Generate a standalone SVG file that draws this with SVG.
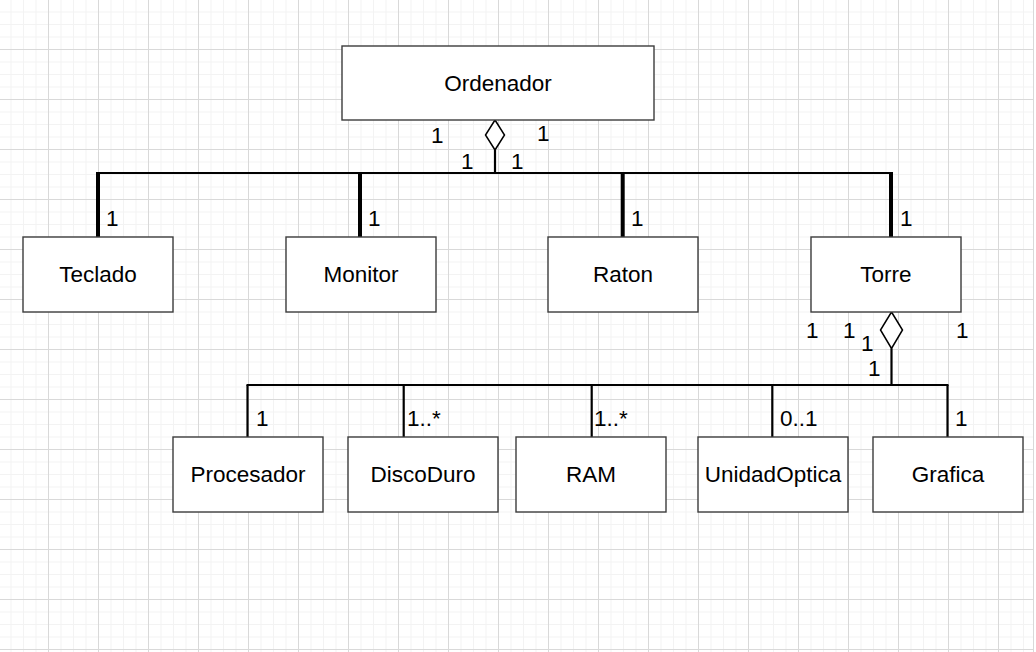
<svg xmlns="http://www.w3.org/2000/svg" width="1036" height="652" viewBox="0 0 1036 652">
<defs>
<pattern id="grid" patternUnits="userSpaceOnUse" x="-2" y="-1" width="50" height="50">
<rect width="50" height="50" fill="#ffffff"/>
<path d="M13 0V50M25.5 0V50M38 0V50M0 13H50M0 25.5H50M0 38H50" stroke="#f3f3f3" stroke-width="1" fill="none"/>
<path d="M0.5 0V50M0 0.5H50" stroke="#d9d9d9" stroke-width="1" fill="none"/>
</pattern>
<style>
.node rect{fill:#ffffff;stroke:#3c3c3c;stroke-width:1.4}
.node text{font-family:"Liberation Sans",Arial,sans-serif;font-size:22.5px;fill:#000;text-anchor:middle}
.lbl{font-family:"Liberation Sans",Arial,sans-serif;font-size:22.5px;fill:#000}
.thin{stroke:#000;stroke-width:2.2;fill:none}
.thick{stroke:#000;stroke-width:4;fill:none}
.dia{fill:#fff;stroke:#000;stroke-width:1.5}
</style>
</defs>
<rect x="0" y="0" width="1036" height="652" fill="#ffffff"/>
<rect x="0" y="0" width="1033" height="652" fill="url(#grid)"/>
<line x1="1033.5" y1="0" x2="1033.5" y2="652" stroke="#d9d9d9" stroke-width="1"/>

<g id="connectors">
<line class="thin" x1="495" y1="150" x2="495" y2="173"/>
<line class="thin" x1="97" y1="173" x2="892" y2="173"/>
<line class="thick" x1="98" y1="172" x2="98" y2="237"/>
<line class="thick" x1="360" y1="172" x2="360" y2="237"/>
<line class="thick" x1="622.7" y1="172" x2="622.7" y2="237"/>
<line class="thick" x1="891" y1="172" x2="891" y2="237"/>
<polygon class="dia" points="495,120 504.5,135 495,150 485.5,135"/>

<line class="thin" x1="891.5" y1="348.5" x2="891.5" y2="385"/>
<line class="thin" x1="246.5" y1="385" x2="948.5" y2="385"/>
<line class="thin" x1="247.5" y1="385" x2="247.5" y2="437"/>
<line class="thin" x1="403.7" y1="385" x2="403.7" y2="437"/>
<line class="thin" x1="591.7" y1="385" x2="591.7" y2="437"/>
<line class="thin" x1="772.3" y1="385" x2="772.3" y2="437"/>
<line class="thin" x1="947.5" y1="385" x2="947.5" y2="437"/>
<polygon class="dia" points="891.5,312 902.5,330 891.5,348.5 880.5,330"/>

<text class="lbl" x="431" y="143">1</text>
<text class="lbl" x="537" y="141">1</text>
<text class="lbl" x="461" y="169">1</text>
<text class="lbl" x="511" y="169">1</text>
<text class="lbl" x="106" y="226">1</text>
<text class="lbl" x="368" y="226">1</text>
<text class="lbl" x="631" y="226">1</text>
<text class="lbl" x="900" y="226">1</text>
<text class="lbl" x="806" y="338">1</text>
<text class="lbl" x="843" y="338">1</text>
<text class="lbl" x="861" y="351">1</text>
<text class="lbl" x="868" y="376">1</text>
<text class="lbl" x="956" y="338">1</text>
<text class="lbl" x="256" y="426">1</text>
<text class="lbl" x="407" y="426">1..*</text>
<text class="lbl" x="594" y="426">1..*</text>
<text class="lbl" x="780" y="426">0..1</text>
<text class="lbl" x="955" y="426">1</text>
</g>

<g id="ordenador" class="node"><rect x="342" y="46" width="312" height="74"/><text x="498" y="91">Ordenador</text></g>
<g id="teclado" class="node"><rect x="23" y="237" width="150" height="75"/><text x="98" y="282">Teclado</text></g>
<g id="monitor" class="node"><rect x="286" y="237" width="150" height="75"/><text x="361" y="282">Monitor</text></g>
<g id="raton" class="node"><rect x="548" y="237" width="150" height="75"/><text x="623" y="282">Raton</text></g>
<g id="torre" class="node"><rect x="811" y="237" width="150" height="75"/><text x="886" y="282">Torre</text></g>
<g id="procesador" class="node"><rect x="173" y="437" width="150" height="75"/><text x="248" y="482">Procesador</text></g>
<g id="discoduro" class="node"><rect x="348" y="437" width="150" height="75"/><text x="423" y="482">DiscoDuro</text></g>
<g id="ram" class="node"><rect x="516" y="437" width="150" height="75"/><text x="591" y="482">RAM</text></g>
<g id="unidadoptica" class="node"><rect x="698" y="437" width="150" height="75"/><text x="773" y="482">UnidadOptica</text></g>
<g id="grafica" class="node"><rect x="873" y="437" width="150" height="75"/><text x="948" y="482">Grafica</text></g>
</svg>
